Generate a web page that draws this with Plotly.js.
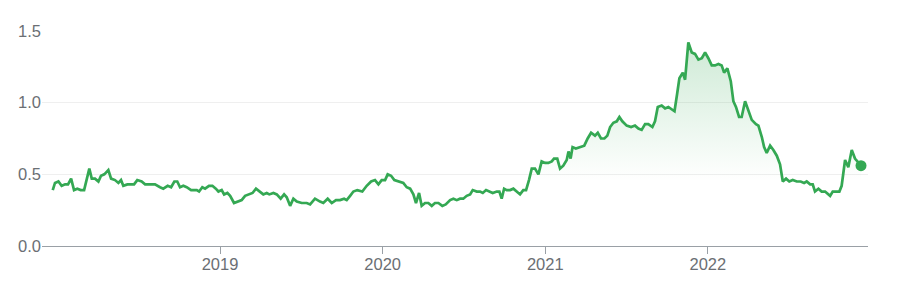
<!DOCTYPE html>
<html>
<head>
<meta charset="utf-8">
<script src="https://cdn.plot.ly/plotly-3.0.1.min.js"></script>
<style>
  html, body { margin: 0; padding: 0; background: #ffffff; }
  #chart { width: 903px; height: 296px; }
</style>
</head>
<body>
<div id="chart"></div>
<script>
// Time expressed as decimal years
const years = [
  2017.971, 2017.985, 2018.006, 2018.026, 2018.047, 2018.065, 2018.084, 2018.102, 2018.122, 2018.143,
  2018.164, 2018.180, 2018.196, 2018.211, 2018.231, 2018.252, 2018.268, 2018.288, 2018.313, 2018.330,
  2018.354, 2018.375, 2018.391, 2018.405, 2018.430, 2018.471, 2018.491, 2018.518, 2018.539, 2018.569,
  2018.600, 2018.631, 2018.651, 2018.678, 2018.699, 2018.719, 2018.737, 2018.754, 2018.774, 2018.795,
  2018.822, 2018.857, 2018.871, 2018.891, 2018.908, 2018.932, 2018.953, 2018.974, 2018.990, 2019.010,
  2019.025, 2019.045, 2019.062, 2019.086, 2019.113, 2019.133, 2019.154, 2019.178, 2019.200, 2019.221,
  2019.246, 2019.266, 2019.287, 2019.303, 2019.328, 2019.349, 2019.373, 2019.394, 2019.410, 2019.431,
  2019.451, 2019.472, 2019.502, 2019.533, 2019.554, 2019.584, 2019.615, 2019.635, 2019.662, 2019.687,
  2019.713, 2019.738, 2019.763, 2019.779, 2019.800, 2019.820, 2019.844, 2019.875, 2019.902, 2019.929,
  2019.953, 2019.974, 2019.994, 2020.015, 2020.031, 2020.052, 2020.072, 2020.097, 2020.127, 2020.148,
  2020.169, 2020.189, 2020.205, 2020.224, 2020.240, 2020.261, 2020.281, 2020.302, 2020.322, 2020.343,
  2020.367, 2020.388, 2020.415, 2020.435, 2020.456, 2020.476, 2020.496, 2020.517, 2020.538, 2020.554,
  2020.579, 2020.599, 2020.616, 2020.636, 2020.661, 2020.677, 2020.702, 2020.718, 2020.732, 2020.747,
  2020.763, 2020.784, 2020.804, 2020.825, 2020.845, 2020.865, 2020.882, 2020.900, 2020.917, 2020.937,
  2020.958, 2020.978, 2020.999, 2021.019, 2021.040, 2021.054, 2021.074, 2021.091, 2021.111, 2021.132,
  2021.143, 2021.156, 2021.168, 2021.188, 2021.214, 2021.240, 2021.261, 2021.282, 2021.306, 2021.323,
  2021.343, 2021.364, 2021.382, 2021.399, 2021.419, 2021.440, 2021.456, 2021.474, 2021.501, 2021.528,
  2021.552, 2021.573, 2021.593, 2021.614, 2021.634, 2021.659, 2021.675, 2021.692, 2021.716, 2021.737,
  2021.757, 2021.782, 2021.795, 2021.811, 2021.825, 2021.846, 2021.860, 2021.880, 2021.901, 2021.921,
  2021.942, 2021.963, 2021.983, 2022.003, 2022.024, 2022.044, 2022.065, 2022.085, 2022.100, 2022.120,
  2022.141, 2022.157, 2022.173, 2022.192, 2022.208, 2022.229, 2022.249, 2022.270, 2022.296, 2022.311,
  2022.332, 2022.346, 2022.362, 2022.383, 2022.403, 2022.424, 2022.444, 2022.461, 2022.481, 2022.501,
  2022.522, 2022.547, 2022.571, 2022.592, 2022.608, 2022.629, 2022.645, 2022.659, 2022.680, 2022.700,
  2022.721, 2022.752, 2022.768, 2022.788, 2022.809, 2022.823, 2022.844, 2022.864, 2022.885, 2022.905,
  2022.926, 2022.942
];

const prices = [
  0.39, 0.44, 0.45, 0.42, 0.43, 0.43, 0.47, 0.39, 0.40, 0.39,
  0.39, 0.46, 0.54, 0.47, 0.47, 0.45, 0.49, 0.50, 0.53, 0.47,
  0.46, 0.44, 0.46, 0.42, 0.43, 0.43, 0.46, 0.45, 0.43, 0.43,
  0.43, 0.41, 0.40, 0.42, 0.41, 0.45, 0.45, 0.41, 0.42, 0.41,
  0.39, 0.39, 0.38, 0.41, 0.40, 0.42, 0.42, 0.40, 0.38, 0.39,
  0.36, 0.37, 0.35, 0.30, 0.31, 0.32, 0.35, 0.36, 0.37, 0.40,
  0.38, 0.36, 0.37, 0.36, 0.37, 0.36, 0.33, 0.36, 0.34, 0.28,
  0.33, 0.31, 0.30, 0.30, 0.29, 0.33, 0.31, 0.30, 0.33, 0.30,
  0.32, 0.32, 0.33, 0.32, 0.35, 0.38, 0.39, 0.38, 0.42, 0.45,
  0.46, 0.43, 0.46, 0.46, 0.50, 0.49, 0.46, 0.45, 0.44, 0.41,
  0.40, 0.36, 0.30, 0.37, 0.28, 0.30, 0.30, 0.28, 0.30, 0.30,
  0.28, 0.29, 0.32, 0.33, 0.32, 0.33, 0.33, 0.35, 0.36, 0.39,
  0.38, 0.38, 0.37, 0.39, 0.38, 0.37, 0.38, 0.38, 0.33, 0.40,
  0.39, 0.39, 0.40, 0.38, 0.36, 0.39, 0.39, 0.46, 0.54, 0.54,
  0.50, 0.59, 0.58, 0.58, 0.59, 0.61, 0.61, 0.54, 0.56, 0.60,
  0.66, 0.61, 0.69, 0.68, 0.69, 0.70, 0.75, 0.79, 0.77, 0.79,
  0.75, 0.75, 0.77, 0.83, 0.86, 0.87, 0.90, 0.87, 0.84, 0.83,
  0.84, 0.82, 0.81, 0.85, 0.85, 0.83, 0.87, 0.97, 0.98, 0.96,
  0.97, 0.95, 0.94, 1.06, 1.17, 1.21, 1.16, 1.42, 1.35, 1.34,
  1.30, 1.31, 1.35, 1.31, 1.26, 1.26, 1.27, 1.26, 1.21, 1.24,
  1.15, 1.01, 0.97, 0.90, 0.90, 1.01, 0.95, 0.88, 0.85, 0.84,
  0.76, 0.69, 0.65, 0.70, 0.67, 0.63, 0.57, 0.45, 0.47, 0.45,
  0.46, 0.45, 0.45, 0.44, 0.45, 0.43, 0.43, 0.38, 0.40, 0.38,
  0.38, 0.35, 0.38, 0.38, 0.38, 0.42, 0.60, 0.55, 0.67, 0.61,
  0.58, 0.56
];

const xTickVals = [2019, 2020, 2021, 2022];
const xTickText = ['2019', '2020', '2021', '2022'];
const yTickVals = [0, 0.5, 1.0, 1.5];
const yTickText = ['0.0', '0.5', '1.0', '1.5'];

const green = '#34a853';

const traces = [
  {
    x: years,
    y: prices,
    type: 'scatter',
    mode: 'lines',
    line: { color: green, width: 2.7 },
    fill: 'tozeroy',
    fillgradient: {
      type: 'vertical',
      start: 0.45,
      stop: 1.42,
      colorscale: [[0, 'rgba(52,168,83,0)'], [1, 'rgba(52,168,83,0.24)']]
    },
    hoverinfo: 'skip'
  },
  {
    x: [years[years.length - 1]],
    y: [prices[prices.length - 1]],
    type: 'scatter',
    mode: 'markers',
    marker: { color: green, size: 11 },
    hoverinfo: 'skip'
  }
];

const layout = {
  width: 903,
  height: 296,
  margin: { l: 42, r: 35, t: 31, b: 50 },
  paper_bgcolor: '#ffffff',
  plot_bgcolor: '#ffffff',
  showlegend: false,
  font: { family: 'Arial, "Liberation Sans", sans-serif', color: '#6b6f74', size: 16.5 },
  xaxis: {
    range: [2017.905, 2022.985],
    tickvals: xTickVals,
    ticktext: xTickText,
    showgrid: false,
    zeroline: false,
    showline: true,
    linecolor: '#9aa0a6',
    linewidth: 1,
    ticks: 'outside',
    ticklen: 7,
    tickcolor: '#9aa0a6',
    ticklabelstandoff: -4,
    tickfont: { size: 16.5, color: '#6b6f74' },
    fixedrange: true
  },
  yaxis: {
    range: [0, 1.5],
    tickvals: yTickVals,
    ticktext: yTickText,
    showgrid: true,
    gridcolor: '#efefef',
    zeroline: false,
    showline: false,
    ticks: '',
    ticklabelstandoff: 0,
    tickfont: { size: 16.5, color: '#6b6f74' },
    fixedrange: true
  }
};

Plotly.newPlot('chart', traces, layout, { displayModeBar: false, staticPlot: true });
</script>
</body>
</html>
